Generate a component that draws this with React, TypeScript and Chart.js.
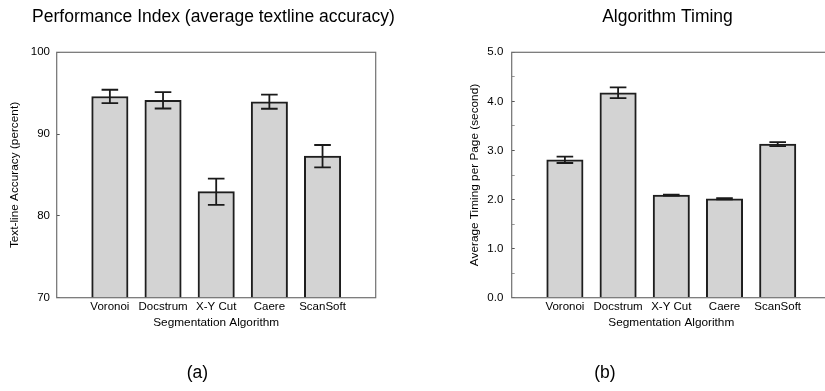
import React, { useEffect, useRef } from "react";
import { Chart, registerables } from "chart.js";

Chart.register(...registerables);

const FONT = "'Liberation Sans', Arial, Helvetica, sans-serif";

const categories = ["Voronoi", "Docstrum", "X-Y Cut", "Caere", "ScanSoft"];

const accuracyValues = [94.6, 94.13, 82.96, 93.96, 87.3];
const accuracyErrors = [0.82, 1.0, 1.6, 0.86, 1.37];

const timingValues = [2.81, 4.175, 2.09, 2.016, 3.13];
const timingErrors = [0.065, 0.11, 0.012, 0.01, 0.04];

const accuracyTicks = { min: 70, max: 100, step: 10 };
const timingTicks = { min: 0, max: 5, step: 0.5 };

const errorBarPlugin = (errors: number[]) => ({
  id: "errorBars",
  afterDatasetsDraw(chart: any) {
    const ctx = chart.ctx;
    const meta = chart.getDatasetMeta(0);
    const y = chart.scales.y;
    const values = chart.data.datasets[0].data;
    ctx.save();
    ctx.strokeStyle = "#1a1a1a";
    ctx.lineWidth = 1.8;
    errors.forEach((e, i) => {
      const el = meta.data[i + 1];
      const v = values[i + 1];
      if (!el || v == null) return;
      const x = el.x;
      const yt = y.getPixelForValue(v + e);
      const yb = y.getPixelForValue(v - e);
      const hw = 8.3;
      ctx.beginPath();
      ctx.moveTo(x, yt);
      ctx.lineTo(x, yb);
      ctx.moveTo(x - hw, yt);
      ctx.lineTo(x + hw, yt);
      ctx.moveTo(x - hw, yb);
      ctx.lineTo(x + hw, yb);
      ctx.stroke();
    });
    ctx.restore();
  },
});

const framePlugin = {
  id: "frame",
  afterDatasetsDraw(chart: any) {
    const { left, top, right, bottom } = chart.chartArea;
    const ctx = chart.ctx;
    ctx.save();
    ctx.strokeStyle = "#707070";
    ctx.lineWidth = 1.2;
    ctx.strokeRect(left, top, right - left, bottom - top);
    ctx.restore();
  },
};

const headingPlugin = (text: string, cx: number) => ({
  id: "heading",
  afterDraw(chart: any) {
    const ctx = chart.ctx;
    ctx.save();
    ctx.fillStyle = "#000";
    ctx.font = `17.5px ${FONT}`;
    ctx.textAlign = "center";
    ctx.textBaseline = "middle";
    ctx.fillText(text, cx, 17);
    ctx.restore();
  },
});

type Cfg = {
  title: string;
  titleX: number;
  yTitle: string;
  values: number[];
  errors: number[];
  ticks: { min: number; max: number; step: number };
  yWidth: number;
  padRight: number;
  yTickPad: number;
  yTitlePad: number;
  label: (v: number) => string;
  minorColor: string;
};

function makeChart(canvas: HTMLCanvasElement, c: Cfg) {
  const labels = ["", ...categories, ""];
  const data = [null, ...c.values, null];
  return new Chart(canvas, {
    type: "bar",
    data: {
      labels,
      datasets: [
        {
          data: data as any,
          backgroundColor: "#d3d3d3",
          borderColor: "#1e1e1e",
          borderWidth: 2,
          barThickness: 36.4,
        },
      ],
    },
    options: {
      responsive: false,
      animation: false,
      devicePixelRatio: 1,
      layout: { padding: { left: 0, right: c.padRight, top: 52.3, bottom: 0 } },
      plugins: {
        legend: { display: false },
        tooltip: { enabled: false },
        title: { display: false },
      },
      scales: {
        x: {
          type: "category",
          offset: false,
          grid: { display: false, drawTicks: false },
          border: { display: false },
          ticks: {
            autoSkip: false,
            maxRotation: 0,
            padding: 2.4,
            color: "#000",
            font: { family: FONT, size: 11.5 },
          },
          title: {
            display: true,
            text: "Segmentation Algorithm",
            color: "#000",
            font: { family: FONT, size: 11.8 },
            padding: { top: 0, bottom: 60.9 },
          },
          afterFit(scale: any) {
            scale.height = 93.3;
          },
        },
        y: {
          min: c.ticks.min,
          max: c.ticks.max,
          grid: {
            display: true,
            drawOnChartArea: false,
            drawTicks: true,
            tickLength: -3,
            color: (ctx: any) => {
              const v = ctx.tick ? ctx.tick.value : 0;
              return c.label(v) === "" ? c.minorColor : "#555555";
            },
          },
          border: { display: false },
          ticks: {
            stepSize: c.ticks.step,
            padding: c.yTickPad,
            color: "#000",
            font: { family: FONT, size: 11.5 },
            callback: (v: any) => c.label(Number(v)),
          },
          title: {
            display: true,
            text: c.yTitle,
            color: "#000",
            font: { family: FONT, size: 11.8 },
            padding: { top: c.yTitlePad, bottom: 0 },
          },
          afterFit(scale: any) {
            scale.width = c.yWidth;
          },
        },
      },
    },
    plugins: [framePlugin, errorBarPlugin(c.errors), headingPlugin(c.title, c.titleX)],
  });
}

export default function App() {
  const ref1 = useRef<HTMLCanvasElement>(null);
  const ref2 = useRef<HTMLCanvasElement>(null);

  useEffect(() => {
    const c1 = makeChart(ref1.current!, {
      title: "Performance Index (average textline accuracy)",
      titleX: 213.5,
      yTitle: "Text-line Accuracy (percent)",
      values: accuracyValues,
      errors: accuracyErrors,
      ticks: accuracyTicks,
      yWidth: 56.7,
      padRight: 51.3,
      yTickPad: 9.7,
      yTitlePad: 7.9,
      label: (v) => String(v),
      minorColor: "#555555",
    });
    const c2 = makeChart(ref2.current!, {
      title: "Algorithm Timing",
      titleX: 237.5,
      yTitle: "Average Timing per Page (second)",
      values: timingValues,
      errors: timingErrors,
      ticks: timingTicks,
      yWidth: 81.7,
      padRight: 74.1,
      yTickPad: 11.4,
      yTitlePad: 37.9,
      label: (v) => (Math.abs(v - Math.round(v)) < 1e-6 ? v.toFixed(1) : ""),
      minorColor: "#999999",
    });
    return () => {
      c1.destroy();
      c2.destroy();
    };
  }, []);

  const capStyle = (cx: number): React.CSSProperties => ({
    position: "absolute",
    left: cx - 50,
    width: 100,
    top: 362,
    height: 20,
    lineHeight: "20px",
    textAlign: "center",
    fontFamily: FONT,
    fontSize: "17.5px",
    color: "#000",
  });

  return (
    <div
      style={{
        position: "absolute",
        left: 0,
        top: 0,
        width: 825,
        height: 391,
        overflow: "hidden",
        background: "#fff",
      }}
    >
      <canvas
        ref={ref1}
        width={427}
        height={391}
        style={{ position: "absolute", left: 0, top: 0, width: 427, height: 391 }}
      />
      <canvas
        ref={ref2}
        width={475}
        height={391}
        style={{ position: "absolute", left: 430, top: 0, width: 475, height: 391 }}
      />
      <div style={capStyle(197.5)}>(a)</div>
      <div style={capStyle(605)}>(b)</div>
    </div>
  );
}
